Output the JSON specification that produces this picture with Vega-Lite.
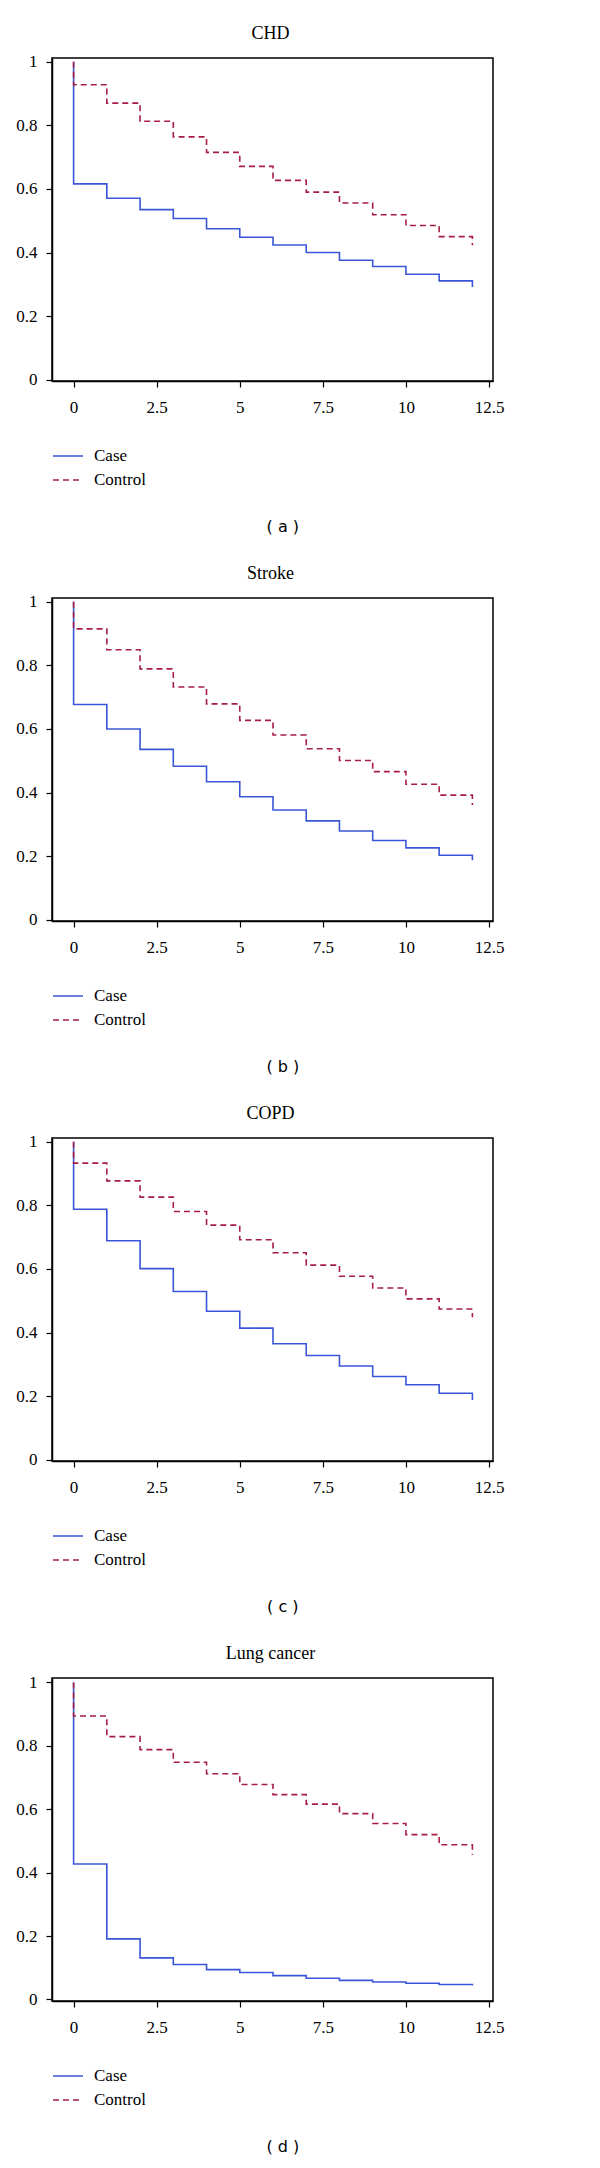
{
  "$schema": "https://vega.github.io/schema/vega-lite/v6.json",
  "padding": {"left": 15, "top": 24, "right": 5, "bottom": 5},
  "background": "white",
  "spacing": 29,
  "datasets": {
    "km": [
      {"p":"a","g":"Case","i":0,"t":0,"s":1},{"p":"a","g":"Case","i":1,"t":0,"s":0.616},{"p":"a","g":"Case","i":2,"t":1,"s":0.571},{"p":"a","g":"Case","i":3,"t":2,"s":0.535},{"p":"a","g":"Case","i":4,"t":3,"s":0.507},{"p":"a","g":"Case","i":5,"t":4,"s":0.475},{"p":"a","g":"Case","i":6,"t":5,"s":0.448},{"p":"a","g":"Case","i":7,"t":6,"s":0.424},{"p":"a","g":"Case","i":8,"t":7,"s":0.400},{"p":"a","g":"Case","i":9,"t":8,"s":0.376},{"p":"a","g":"Case","i":10,"t":9,"s":0.356},{"p":"a","g":"Case","i":11,"t":10,"s":0.332},{"p":"a","g":"Case","i":12,"t":11,"s":0.311},{"p":"a","g":"Case","i":13,"t":12,"s":0.292},
      {"p":"a","g":"Control","i":0,"t":0,"s":1},{"p":"a","g":"Control","i":1,"t":0,"s":0.928},{"p":"a","g":"Control","i":2,"t":1,"s":0.870},{"p":"a","g":"Control","i":3,"t":2,"s":0.813},{"p":"a","g":"Control","i":4,"t":3,"s":0.764},{"p":"a","g":"Control","i":5,"t":4,"s":0.715},{"p":"a","g":"Control","i":6,"t":5,"s":0.671},{"p":"a","g":"Control","i":7,"t":6,"s":0.627},{"p":"a","g":"Control","i":8,"t":7,"s":0.590},{"p":"a","g":"Control","i":9,"t":8,"s":0.556},{"p":"a","g":"Control","i":10,"t":9,"s":0.519},{"p":"a","g":"Control","i":11,"t":10,"s":0.485},{"p":"a","g":"Control","i":12,"t":11,"s":0.450},{"p":"a","g":"Control","i":13,"t":12,"s":0.423},
      {"p":"b","g":"Case","i":0,"t":0,"s":1},{"p":"b","g":"Case","i":1,"t":0,"s":0.677},{"p":"b","g":"Case","i":2,"t":1,"s":0.600},{"p":"b","g":"Case","i":3,"t":2,"s":0.536},{"p":"b","g":"Case","i":4,"t":3,"s":0.483},{"p":"b","g":"Case","i":5,"t":4,"s":0.434},{"p":"b","g":"Case","i":6,"t":5,"s":0.387},{"p":"b","g":"Case","i":7,"t":6,"s":0.345},{"p":"b","g":"Case","i":8,"t":7,"s":0.311},{"p":"b","g":"Case","i":9,"t":8,"s":0.279},{"p":"b","g":"Case","i":10,"t":9,"s":0.249},{"p":"b","g":"Case","i":11,"t":10,"s":0.226},{"p":"b","g":"Case","i":12,"t":11,"s":0.203},{"p":"b","g":"Case","i":13,"t":12,"s":0.187},
      {"p":"b","g":"Control","i":0,"t":0,"s":1},{"p":"b","g":"Control","i":1,"t":0,"s":0.915},{"p":"b","g":"Control","i":2,"t":1,"s":0.849},{"p":"b","g":"Control","i":3,"t":2,"s":0.789},{"p":"b","g":"Control","i":4,"t":3,"s":0.732},{"p":"b","g":"Control","i":5,"t":4,"s":0.679},{"p":"b","g":"Control","i":6,"t":5,"s":0.627},{"p":"b","g":"Control","i":7,"t":6,"s":0.581},{"p":"b","g":"Control","i":8,"t":7,"s":0.538},{"p":"b","g":"Control","i":9,"t":8,"s":0.501},{"p":"b","g":"Control","i":10,"t":9,"s":0.466},{"p":"b","g":"Control","i":11,"t":10,"s":0.426},{"p":"b","g":"Control","i":12,"t":11,"s":0.392},{"p":"b","g":"Control","i":13,"t":12,"s":0.361},
      {"p":"c","g":"Case","i":0,"t":0,"s":1},{"p":"c","g":"Case","i":1,"t":0,"s":0.788},{"p":"c","g":"Case","i":2,"t":1,"s":0.689},{"p":"c","g":"Case","i":3,"t":2,"s":0.601},{"p":"c","g":"Case","i":4,"t":3,"s":0.529},{"p":"c","g":"Case","i":5,"t":4,"s":0.467},{"p":"c","g":"Case","i":6,"t":5,"s":0.414},{"p":"c","g":"Case","i":7,"t":6,"s":0.365},{"p":"c","g":"Case","i":8,"t":7,"s":0.328},{"p":"c","g":"Case","i":9,"t":8,"s":0.295},{"p":"c","g":"Case","i":10,"t":9,"s":0.262},{"p":"c","g":"Case","i":11,"t":10,"s":0.236},{"p":"c","g":"Case","i":12,"t":11,"s":0.209},{"p":"c","g":"Case","i":13,"t":12,"s":0.188},
      {"p":"c","g":"Control","i":0,"t":0,"s":1},{"p":"c","g":"Control","i":1,"t":0,"s":0.933},{"p":"c","g":"Control","i":2,"t":1,"s":0.877},{"p":"c","g":"Control","i":3,"t":2,"s":0.826},{"p":"c","g":"Control","i":4,"t":3,"s":0.781},{"p":"c","g":"Control","i":5,"t":4,"s":0.738},{"p":"c","g":"Control","i":6,"t":5,"s":0.692},{"p":"c","g":"Control","i":7,"t":6,"s":0.651},{"p":"c","g":"Control","i":8,"t":7,"s":0.612},{"p":"c","g":"Control","i":9,"t":8,"s":0.577},{"p":"c","g":"Control","i":10,"t":9,"s":0.540},{"p":"c","g":"Control","i":11,"t":10,"s":0.506},{"p":"c","g":"Control","i":12,"t":11,"s":0.474},{"p":"c","g":"Control","i":13,"t":12,"s":0.448},
      {"p":"d","g":"Case","i":0,"t":0,"s":1},{"p":"d","g":"Case","i":1,"t":0,"s":0.427},{"p":"d","g":"Case","i":2,"t":1,"s":0.191},{"p":"d","g":"Case","i":3,"t":2,"s":0.131},{"p":"d","g":"Case","i":4,"t":3,"s":0.110},{"p":"d","g":"Case","i":5,"t":4,"s":0.094},{"p":"d","g":"Case","i":6,"t":5,"s":0.085},{"p":"d","g":"Case","i":7,"t":6,"s":0.075},{"p":"d","g":"Case","i":8,"t":7,"s":0.067},{"p":"d","g":"Case","i":9,"t":8,"s":0.060},{"p":"d","g":"Case","i":10,"t":9,"s":0.055},{"p":"d","g":"Case","i":11,"t":10,"s":0.051},{"p":"d","g":"Case","i":12,"t":11,"s":0.047},{"p":"d","g":"Case","i":13,"t":12,"s":0.044},
      {"p":"d","g":"Control","i":0,"t":0,"s":1},{"p":"d","g":"Control","i":1,"t":0,"s":0.894},{"p":"d","g":"Control","i":2,"t":1,"s":0.829},{"p":"d","g":"Control","i":3,"t":2,"s":0.788},{"p":"d","g":"Control","i":4,"t":3,"s":0.748},{"p":"d","g":"Control","i":5,"t":4,"s":0.712},{"p":"d","g":"Control","i":6,"t":5,"s":0.678},{"p":"d","g":"Control","i":7,"t":6,"s":0.646},{"p":"d","g":"Control","i":8,"t":7,"s":0.616},{"p":"d","g":"Control","i":9,"t":8,"s":0.586},{"p":"d","g":"Control","i":10,"t":9,"s":0.555},{"p":"d","g":"Control","i":11,"t":10,"s":0.520},{"p":"d","g":"Control","i":12,"t":11,"s":0.488},{"p":"d","g":"Control","i":13,"t":12,"s":0.456}
    ]
  },
  "vconcat": [
    {
      "title": {"text": "( a )", "orient": "bottom", "font": "DejaVu Sans", "fontSize": 16, "fontWeight": "normal", "offset": 31, "dx": 23},
      "vconcat": [{
        "title": {"text": "CHD", "dx": -2},
        "width": 441, "height": 323,
        "data": {"name": "km"},
        "transform": [{"filter": "datum.p === 'a'"}],
        "mark": {"type": "line", "interpolate": "step-after", "strokeWidth": 1.6},
        "encoding": {
          "x": {"field": "t", "type": "quantitative", "scale": {"domain": [-0.65, 12.62], "nice": false, "zero": false}, "axis": {"values": [0, 2.5, 5, 7.5, 10, 12.5], "format": ".3~g", "title": null}},
          "y": {"field": "s", "type": "quantitative", "scale": {"domain": [-0.004, 1.012], "nice": false, "zero": false}, "axis": {"values": [0, 0.2, 0.4, 0.6, 0.8, 1], "format": ".3~g", "title": null}},
          "color": {"field": "g", "type": "nominal", "title": null, "scale": {"domain": ["Case", "Control"], "range": ["#3a55d8", "#a61e44"]}},
          "strokeDash": {"field": "g", "type": "nominal", "title": null, "scale": {"domain": ["Case", "Control"], "range": [[1, 0], [6, 4]]}},
          "order": {"field": "i", "type": "quantitative"}
        }
      }]
    },
    {
      "title": {"text": "( b )", "orient": "bottom", "font": "DejaVu Sans", "fontSize": 16, "fontWeight": "normal", "offset": 31, "dx": 23},
      "vconcat": [{
        "title": {"text": "Stroke", "dx": -2},
        "width": 441, "height": 323,
        "data": {"name": "km"},
        "transform": [{"filter": "datum.p === 'b'"}],
        "mark": {"type": "line", "interpolate": "step-after", "strokeWidth": 1.6},
        "encoding": {
          "x": {"field": "t", "type": "quantitative", "scale": {"domain": [-0.65, 12.62], "nice": false, "zero": false}, "axis": {"values": [0, 2.5, 5, 7.5, 10, 12.5], "format": ".3~g", "title": null}},
          "y": {"field": "s", "type": "quantitative", "scale": {"domain": [-0.004, 1.012], "nice": false, "zero": false}, "axis": {"values": [0, 0.2, 0.4, 0.6, 0.8, 1], "format": ".3~g", "title": null}},
          "color": {"field": "g", "type": "nominal", "title": null, "scale": {"domain": ["Case", "Control"], "range": ["#3a55d8", "#a61e44"]}},
          "strokeDash": {"field": "g", "type": "nominal", "title": null, "scale": {"domain": ["Case", "Control"], "range": [[1, 0], [6, 4]]}},
          "order": {"field": "i", "type": "quantitative"}
        }
      }]
    },
    {
      "title": {"text": "( c )", "orient": "bottom", "font": "DejaVu Sans", "fontSize": 16, "fontWeight": "normal", "offset": 31, "dx": 23},
      "vconcat": [{
        "title": {"text": "COPD", "dx": -2},
        "width": 441, "height": 323,
        "data": {"name": "km"},
        "transform": [{"filter": "datum.p === 'c'"}],
        "mark": {"type": "line", "interpolate": "step-after", "strokeWidth": 1.6},
        "encoding": {
          "x": {"field": "t", "type": "quantitative", "scale": {"domain": [-0.65, 12.62], "nice": false, "zero": false}, "axis": {"values": [0, 2.5, 5, 7.5, 10, 12.5], "format": ".3~g", "title": null}},
          "y": {"field": "s", "type": "quantitative", "scale": {"domain": [-0.004, 1.012], "nice": false, "zero": false}, "axis": {"values": [0, 0.2, 0.4, 0.6, 0.8, 1], "format": ".3~g", "title": null}},
          "color": {"field": "g", "type": "nominal", "title": null, "scale": {"domain": ["Case", "Control"], "range": ["#3a55d8", "#a61e44"]}},
          "strokeDash": {"field": "g", "type": "nominal", "title": null, "scale": {"domain": ["Case", "Control"], "range": [[1, 0], [6, 4]]}},
          "order": {"field": "i", "type": "quantitative"}
        }
      }]
    },
    {
      "title": {"text": "( d )", "orient": "bottom", "font": "DejaVu Sans", "fontSize": 16, "fontWeight": "normal", "offset": 31, "dx": 23},
      "vconcat": [{
        "title": {"text": "Lung cancer", "dx": -2},
        "width": 441, "height": 323,
        "data": {"name": "km"},
        "transform": [{"filter": "datum.p === 'd'"}],
        "mark": {"type": "line", "interpolate": "step-after", "strokeWidth": 1.6},
        "encoding": {
          "x": {"field": "t", "type": "quantitative", "scale": {"domain": [-0.65, 12.62], "nice": false, "zero": false}, "axis": {"values": [0, 2.5, 5, 7.5, 10, 12.5], "format": ".3~g", "title": null}},
          "y": {"field": "s", "type": "quantitative", "scale": {"domain": [-0.005, 1.014], "nice": false, "zero": false}, "axis": {"values": [0, 0.2, 0.4, 0.6, 0.8, 1], "format": ".3~g", "title": null}},
          "color": {"field": "g", "type": "nominal", "title": null, "scale": {"domain": ["Case", "Control"], "range": ["#3a55d8", "#a61e44"]}},
          "strokeDash": {"field": "g", "type": "nominal", "title": null, "scale": {"domain": ["Case", "Control"], "range": [[1, 0], [6, 4]]}},
          "order": {"field": "i", "type": "quantitative"}
        }
      }]
    }
  ],
  "resolve": {"scale": {"color": "independent", "strokeDash": "independent"}, "legend": {"color": "independent", "strokeDash": "independent"}},
  "config": {
    "view": {"stroke": "black", "strokeWidth": 1.5},
    "font": "Liberation Serif",
    "title": {"font": "Liberation Serif", "fontSize": 18, "fontWeight": "normal", "color": "black", "offset": 10, "anchor": "middle"},
    "axis": {"grid": false, "domainColor": "black", "domainWidth": 1.5, "tickColor": "black", "tickSize": 6, "tickWidth": 1.2, "labelFont": "Liberation Serif", "labelFontSize": 17, "labelColor": "black", "labelPadding": 12},
    "axisY": {"labelPadding": 9},
    "legend": {"orient": "bottom", "direction": "vertical", "symbolType": "stroke", "symbolSize": 900, "symbolStrokeWidth": 1.6, "labelFont": "Liberation Serif", "labelFontSize": 17, "labelColor": "black", "labelOffset": 10, "rowPadding": -8, "offset": 24, "padding": 0}
  }
}
